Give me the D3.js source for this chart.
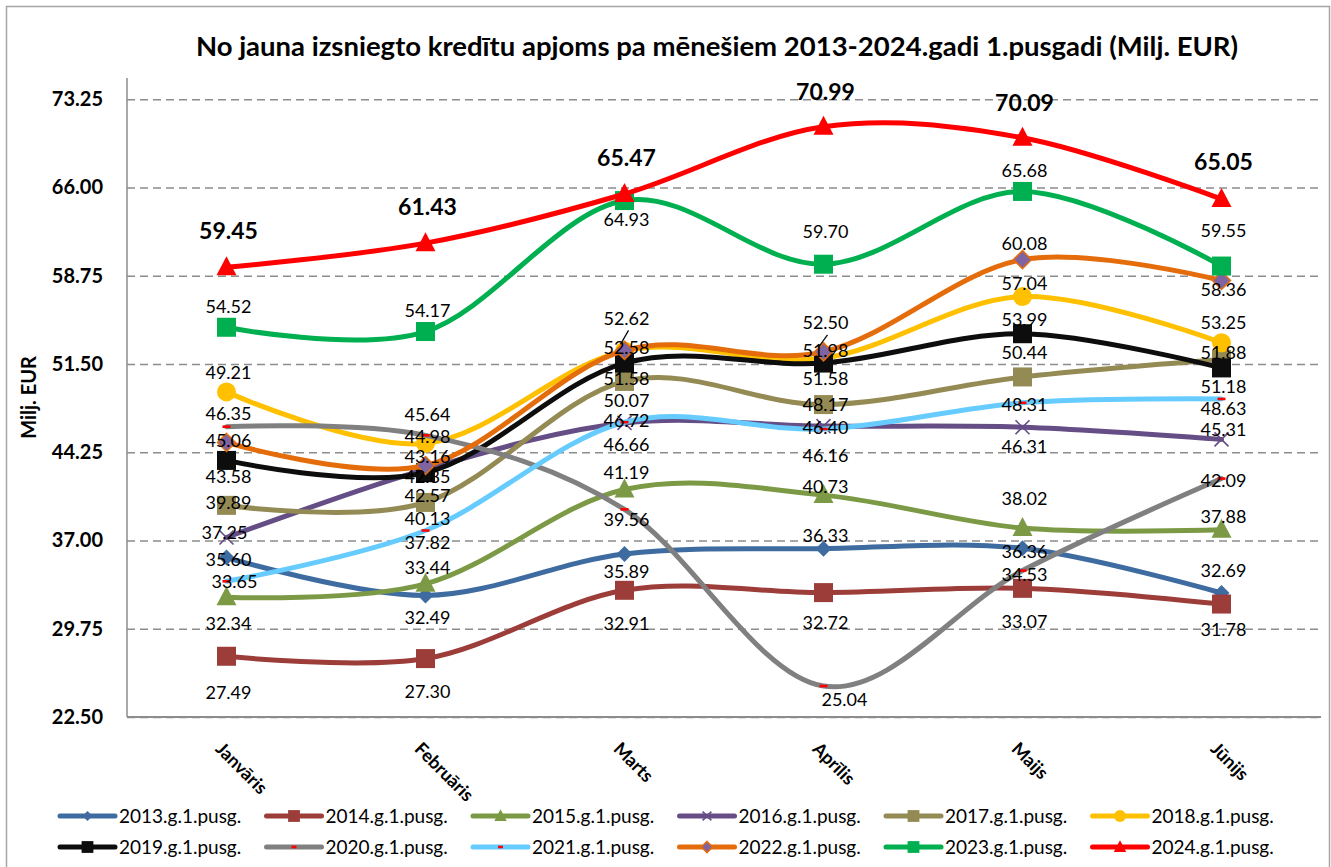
<!DOCTYPE html>
<meta charset="utf-8">
<html lang="lv">
  <head>
    <script type="text/javascript" src="https://cdn.jsdelivr.net/npm/d3@7/dist/d3.min.js"></script>
    <style>
      body { margin: 0; background: #fff; }
      text { font-family: Lato, "Open Sans", sans-serif; fill: #000; }
    </style>
  </head>
  <body>
    <svg id="chart" width="1331" height="867"></svg>
  <script>
    // data
    const months = ['Janvāris', 'Februāris', 'Marts', 'Aprīlis', 'Maijs', 'Jūnijs'];
    const seriesNames = ['2013.g.1.pusg.', '2014.g.1.pusg.', '2015.g.1.pusg.', '2016.g.1.pusg.',
      '2017.g.1.pusg.', '2018.g.1.pusg.', '2019.g.1.pusg.', '2020.g.1.pusg.',
      '2021.g.1.pusg.', '2022.g.1.pusg.', '2023.g.1.pusg.', '2024.g.1.pusg.'];
    const v2013 = [35.60, 32.49, 35.89, 36.33, 36.36, 32.69];
    const v2014 = [27.49, 27.30, 32.91, 32.72, 33.07, 31.78];
    const v2015 = [32.34, 33.44, 41.19, 40.73, 38.02, 37.88];
    const v2016 = [37.25, 42.85, 46.66, 46.40, 46.31, 45.31];
    const v2017 = [39.89, 40.13, 50.07, 48.17, 50.44, 51.88];
    const v2018 = [49.21, 44.98, 52.58, 51.98, 57.04, 53.25];
    const v2019 = [43.58, 42.57, 51.58, 51.58, 53.99, 51.18];
    const v2020 = [46.35, 45.64, 39.56, 25.04, 34.53, 42.09];
    const v2021 = [33.65, 37.82, 46.72, 46.16, 48.31, 48.63];
    const v2022 = [45.06, 43.16, 52.62, 52.50, 60.08, 58.36];
    const v2023 = [54.52, 54.17, 64.93, 59.70, 65.68, 59.55];
    const v2024 = [59.45, 61.43, 65.47, 70.99, 70.09, 65.05];
    const yTicks = [22.50, 29.75, 37.00, 44.25, 51.50, 58.75, 66.00, 73.25];

    const values = [v2013, v2014, v2015, v2016, v2017, v2018, v2019, v2020, v2021, v2022, v2023, v2024];

    // look of each series: line colour, marker, label nudges (px)
    const styles = [
      {color: '#3E6BA0', marker: 'diamond', dy: [2, 22, 18, -13, 3, -22]},
      {color: '#9C3D3A', marker: 'square',  dy: [36, 33, 33, 30, 33, 26]},
      {color: '#7C9A45', marker: 'triangle', dy: [26, -16, -17, -8, -29, -13]},
      {color: '#654D85', marker: 'x',       dy: [-5, 7, 22, 2, 20, -10], dx: [-4, 0, 0, 0, 0, 0]},
      {color: '#948A54', marker: 'square',  dy: [-3, 16, 19, 0, -24, -7]},
      {color: '#FFC000', marker: 'circle',  dy: [-19, -7, -3, -7, -13, -20]},
      {color: '#0D0D0D', marker: 'square',  dy: [16, 23, 16, 16, -14, 19]},
      {color: '#808080', marker: 'dash',    dy: [-13, -21, 10, 14, 4, 2], dx: [0, 0, 0, 19, 0, 0]},
      {color: '#66CCFF', marker: 'dash',    dy: [0, 12, -2, 27, 2, 10], dx: [6, 0, 0, 0, 0, 0]},
      {color: '#E46C0A', marker: 'diamond2', dy: [-2, -9, -32, -29, -16, 9], leader: [0, 0, 1, 1, 0, 0]},
      {color: '#00B050', marker: 'square',  dy: [-21, -21, 19, -33, -21, -35]},
      {color: '#FF0000', marker: 'triangle', dy: [-36, -36, -36, -35, -35, -37], bold: true}
    ];

    const svg = d3.select('#chart');
    const plotLeft = 127, plotRight = 1321, plotTop = 78, plotBottom = 717;

    const x = d3.scalePoint().domain(months).range([plotLeft, plotRight]).padding(0.5);
    const y = d3.scaleLinear().domain([22.5, 75]).range([plotBottom, plotTop]);

    // outer frame
    svg.append('rect').attr('x', 6.5).attr('y', 6.5).attr('width', 1323).attr('height', 880)
      .attr('fill', 'none').attr('stroke', '#a6a6a6').attr('stroke-width', 1.5);

    svg.append('text').attr('x', 717).attr('y', 56).attr('text-anchor', 'middle')
      .attr('font-size', '27.5px').attr('font-weight', 'bold')
      .text('No jauna izsniegto kredītu apjoms pa mēnešiem 2013-2024.gadi 1.pusgadi (Milj. EUR)');

    // grid + y axis
    const yAxis = d3.axisLeft(y).tickValues(yTicks).tickFormat(d3.format('.2f'))
      .tickSize(-(plotRight - plotLeft)).tickPadding(24);
    const gy = svg.append('g').attr('transform', `translate(${plotLeft},0)`).call(yAxis);
    gy.select('.domain').remove();
    gy.selectAll('.tick line').attr('stroke', '#8c8c8c').attr('stroke-width', 1.5)
      .attr('stroke-dasharray', '8,5');
    gy.selectAll('.tick text').attr('font-size', '20px').attr('font-weight', 'bold')
      .style('font-family', 'Lato, sans-serif').attr('fill', '#000');

    svg.append('line').attr('x1', plotLeft).attr('x2', plotLeft).attr('y1', plotTop).attr('y2', plotBottom)
      .attr('stroke', '#8c8c8c').attr('stroke-width', 1.5);
    svg.append('line').attr('x1', plotLeft).attr('x2', plotRight).attr('y1', plotBottom).attr('y2', plotBottom)
      .attr('stroke', '#8c8c8c').attr('stroke-width', 2);

    svg.append('text').attr('transform', `translate(36,${(plotTop + plotBottom) / 2}) rotate(-90)`)
      .attr('text-anchor', 'middle').attr('font-size', '20px').attr('font-weight', 'bold')
      .text('Milj. EUR');

    // x labels, rotated
    svg.append('g').selectAll('text').data(months).enter()
      .append('text')
      .attr('transform', d => `translate(${x(d) - 12},${plotBottom + 33}) rotate(45)`)
      .attr('font-size', '18px').attr('font-weight', 'bold')
      .text(d => d);

    function drawMarker(g, type, color, s) {
      s = s || 1;
      if (type === 'square') {
        g.append('rect').attr('x', -9.5 * s).attr('y', -9.5 * s).attr('width', 19 * s).attr('height', 19 * s)
          .attr('fill', color);
      } else if (type === 'triangle') {
        g.append('path').attr('d', `M0,${-11 * s}L${10 * s},${8 * s}L${-10 * s},${8 * s}Z`).attr('fill', color);
      } else if (type === 'diamond') {
        g.append('path').attr('d', `M0,${-8 * s}L${8 * s},0L0,${8 * s}L${-8 * s},0Z`).attr('fill', color);
      } else if (type === 'diamond2') {
        g.append('path').attr('d', `M0,${-9 * s}L${9 * s},0L0,${9 * s}L${-9 * s},0Z`)
          .attr('fill', '#8064A2').attr('stroke', color).attr('stroke-width', 1.5);
      } else if (type === 'circle') {
        g.append('circle').attr('r', 9.5 * s).attr('fill', color);
      } else if (type === 'x') {
        g.append('path').attr('d', `M${-7 * s},${-7 * s}L${7 * s},${7 * s}M${-7 * s},${7 * s}L${7 * s},${-7 * s}`)
          .attr('stroke', color).attr('stroke-width', 1.6).attr('fill', 'none');
      } else if (type === 'dash') {
        g.append('rect').attr('x', -4 * s).attr('y', -1.3).attr('width', 8 * s).attr('height', 2.6)
          .attr('fill', '#FF0000');
      }
    }

    const line = d3.line()
      .x((d, i) => x(months[i]))
      .y(d => y(d))
      .curve(d3.curveCatmullRom.alpha(0));

    // lines and markers, 2013 at the bottom
    values.forEach(function(vals, k) {
      const st = styles[k];
      const g = svg.append('g');
      g.append('path').attr('d', line(vals)).attr('fill', 'none')
        .attr('stroke', st.color).attr('stroke-width', 5).attr('stroke-linecap', 'round');
      vals.forEach(function(v, i) {
        drawMarker(g.append('g').attr('transform', `translate(${x(months[i])},${y(v)})`), st.marker, st.color);
      });
    });

    // data labels on top
    values.forEach(function(vals, k) {
      const st = styles[k];
      const g = svg.append('g');
      vals.forEach(function(v, i) {
        const px = x(months[i]) + 2 + (st.dx ? st.dx[i] : 0);
        const py = y(v) + st.dy[i];
        g.append('text').attr('x', px).attr('y', py).attr('dy', '0.35em')
          .attr('text-anchor', 'middle')
          .attr('font-size', st.bold ? '23px' : '18px')
          .attr('font-weight', st.bold ? 'bold' : 'normal')
          .text(d3.format('.2f')(v));
        if (st.leader && st.leader[i]) {
          svg.append('line').attr('x1', px + 2).attr('y1', py + 12)
            .attr('x2', x(months[i]) - 4).attr('y2', y(v) - 6)
            .attr('stroke', '#000').attr('stroke-width', 1.2);
        }
      });
    });

    // legend, two rows of six
    const legend = svg.append('g').selectAll('g').data(seriesNames).enter()
      .append('g')
      .attr('transform', (d, i) => `translate(${60 + (i % 6) * 206.5},${816 + Math.floor(i / 6) * 31})`);
    legend.each(function(d, i) {
      const g = d3.select(this);
      g.append('line').attr('x1', 0).attr('x2', 55).attr('stroke', styles[i].color).attr('stroke-width', 5)
        .attr('stroke-linecap', 'round');
      drawMarker(g.append('g').attr('transform', 'translate(27.5,0)'), styles[i].marker, styles[i].color, 0.62);
      g.append('text').attr('x', 59).attr('dy', '0.35em').attr('font-size', '19px').text(d);
    });
  </script>
  </body>
</html>
